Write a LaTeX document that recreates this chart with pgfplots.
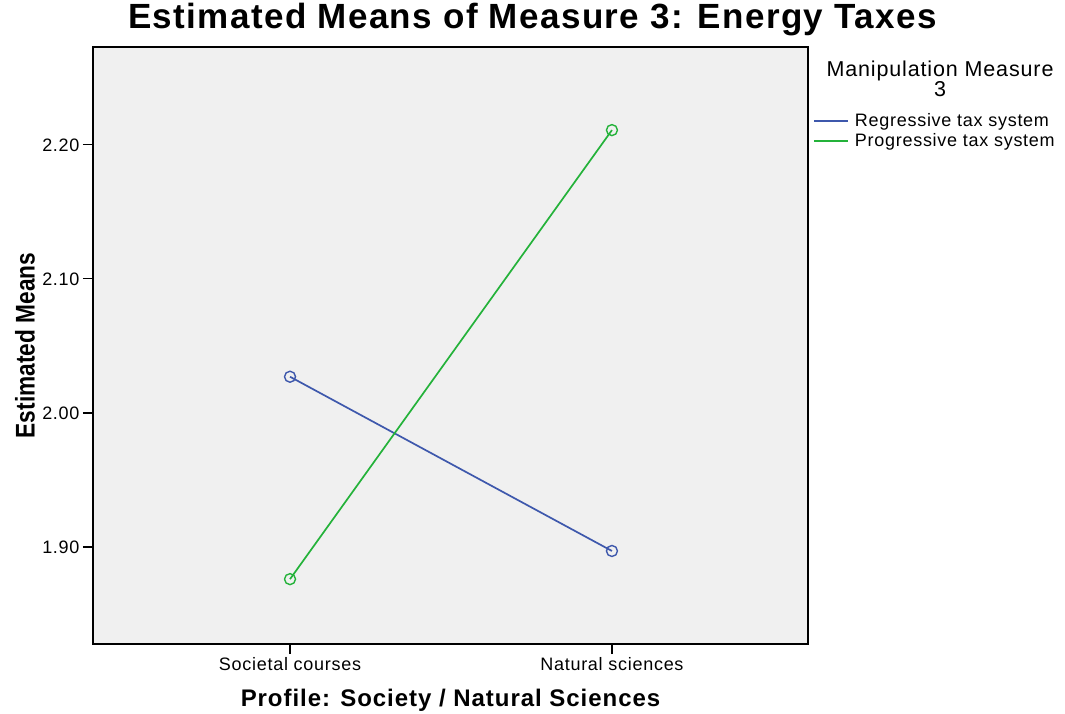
\documentclass[border=0pt]{standalone}
\usepackage{fontspec}
\setmainfont[LetterSpace=4]{Liberation Sans}
\newfontfamily\narrowfont[FakeStretch=0.84]{Liberation Sans}
\usepackage{pgfplots}
\pgfplotsset{compat=1.18}
\definecolor{spssblue}{RGB}{62,88,172}
\definecolor{spssgreen}{RGB}{36,178,58}
\definecolor{spssbg}{RGB}{240,240,240}

\begin{document}
\begin{tikzpicture}[x=1pt,y=1pt]
\useasboundingbox (0,0) rectangle (1065,713);
\begin{axis}[
    at={(93pt,69pt)},
    anchor=south west,
    scale only axis,
    width=715pt,
    height=597pt,
    xmin=0.388, xmax=2.609,
    ymin=1.8276, ymax=2.273,
    xtick={1,2},
    xticklabels={Societal courses,Natural sciences},
    ytick={1.9,2.0,2.1,2.2},
    xtick pos=bottom,
    ytick pos=left,
    tick align=outside,
    major tick length=10pt,
    tick style={black, line width=1.2pt},
    axis line style={black, line width=1.5pt},
    axis background/.style={fill=spssbg},
    yticklabel style={font=\fontsize{18}{20}\selectfont,
        /pgf/number format/.cd, fixed, fixed zerofill, precision=2, assume math mode=true},
    xticklabel style={font=\fontsize{18}{20}\selectfont},
    title={Estimated Means of Measure 3: Energy Taxes},
    title style={font=\fontsize{35}{40}\bfseries, at={(axis description cs:0.5,1)},
        anchor=base, xshift=82pt, yshift=12pt},
    xlabel={Profile: Society / Natural Sciences},
    xlabel style={font=\fontsize{24}{28}\bfseries, at={(axis description cs:0.5,0)},
        anchor=center, yshift=-56pt},
    ylabel={\narrowfont\bfseries Estimated Means},
    ylabel style={font=\fontsize{27}{30}\selectfont, at={(axis description cs:-0.0951,0.5)},
        anchor=center},
    legend style={at={(axis description cs:1,1)}, anchor=north west,
        xshift=3pt, yshift=-62.6pt, draw=none, fill=none,
        font=\fontsize{18}{20}\selectfont, row sep=1pt,
        inner sep=2pt},
    legend cell align=left,
    legend image code/.code={\draw[#1, line width=1.8pt] (0pt,0pt) -- (34pt,0pt); \path (38pt,0pt);},
]
\addplot[spssblue, line width=1.7pt, mark=o, mark size=5.5pt, mark options={line width=1.4pt}]
    coordinates {(1,2.027) (2,1.897)};
\addplot[spssgreen, line width=1.7pt, mark=o, mark size=5.5pt, mark options={line width=1.4pt}]
    coordinates {(1,1.876) (2,2.211)};
\legend{Regressive tax system,Progressive tax system}
\end{axis}
\node[align=center, font=\fontsize{21.5}{19}\selectfont] at (940,634) {Manipulation Measure\\3};
\end{tikzpicture}
\end{document}
